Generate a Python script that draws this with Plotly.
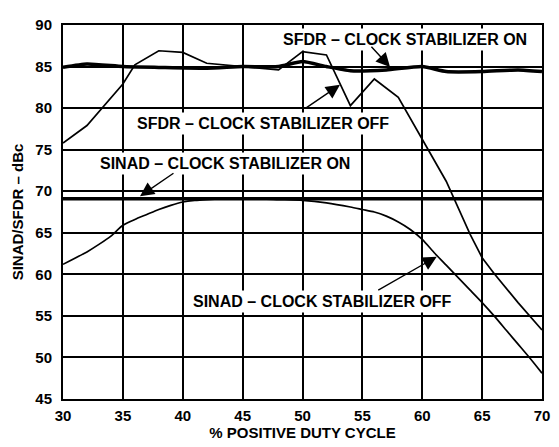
import plotly.graph_objects as go

# ---- data ----
sfdr_on_x = [30, 32, 35, 38, 42, 45, 48, 50, 52, 54, 57, 60, 62, 65, 68, 70]
sfdr_on_y = [84.9, 85.3, 85.0, 84.9, 84.8, 85.0, 85.0, 85.6, 85.0, 84.5, 84.6, 85.0, 84.4, 84.4, 84.6, 84.4]

sfdr_off_x = [30, 32, 35, 36, 38, 40, 42, 45, 48, 50, 52, 54, 56, 58, 60, 62, 64, 65, 66, 68, 70]
sfdr_off_y = [75.8, 77.9, 82.9, 85.2, 86.9, 86.7, 85.4, 85.0, 84.6, 86.8, 86.4, 80.3, 83.5, 81.3,
              76.3, 71.2, 64.8, 62.0, 60.1, 56.6, 53.3]

sinad_on_x = [30, 35, 40, 45, 50, 55, 60, 65, 70]
sinad_on_y = [69.1, 69.1, 69.1, 69.1, 69.1, 69.1, 69.1, 69.1, 69.1]

sinad_off_x = [30, 32, 33, 34, 35, 36, 37, 38, 39, 40, 41, 42, 44, 46, 48, 50, 52, 54, 55, 56, 57, 58,
               59, 60, 61, 62, 63, 64, 65, 66, 67, 68, 69, 70]
sinad_off_y = [61.2, 62.7, 63.6, 64.6, 65.9, 66.6, 67.2, 67.8, 68.3, 68.7, 68.9, 69.0, 69.1, 69.1, 69.0,
               68.9, 68.6, 68.1, 67.8, 67.5, 67.0, 66.3, 65.4, 64.2, 62.6, 61.1, 59.6, 58.1, 56.6,
               55.0, 53.3, 51.6, 49.9, 48.1]

x_ticks = [30, 35, 40, 45, 50, 55, 60, 65, 70]
y_ticks = [45, 50, 55, 60, 65, 70, 75, 80, 85, 90]

labels = ["SFDR – CLOCK STABILIZER ON", "SFDR – CLOCK STABILIZER OFF",
          "SINAD – CLOCK STABILIZER ON", "SINAD – CLOCK STABILIZER OFF"]
label_x = [58.56, 46.73, 43.53, 51.64]
label_y = [88.27, 78.17, 73.28, 56.71]
arrow_tail_x = [55.64, 50.21, 39.35, 56.20]
arrow_tail_y = [87.57, 79.93, 72.29, 58.00]
arrow_head_x = [57.31, 53.13, 36.43, 61.21]
arrow_head_y = [84.95, 82.80, 69.40, 62.12]

FONT = "Liberation Sans, Arial, Helvetica, sans-serif"

def bold(s):
    return "<b>" + s + "</b>"

fig = go.Figure()
fig.add_trace(go.Scatter(x=sfdr_on_x, y=sfdr_on_y, mode="lines",
                         line=dict(color="black", width=3.5, shape="spline", smoothing=0.5)))
fig.add_trace(go.Scatter(x=sfdr_off_x, y=sfdr_off_y, mode="lines",
                         line=dict(color="black", width=1.7)))
fig.add_trace(go.Scatter(x=sinad_on_x, y=sinad_on_y, mode="lines",
                         line=dict(color="black", width=3.5)))
fig.add_trace(go.Scatter(x=sinad_off_x, y=sinad_off_y, mode="lines",
                         line=dict(color="black", width=1.7, shape="spline", smoothing=0.6)))

annotations = []
for t, x, y in zip(labels, label_x, label_y):
    annotations.append(dict(x=x, y=y, xref="x", yref="y", text=bold(t), showarrow=False,
                            bgcolor="white", borderpad=2,
                            font=dict(family=FONT, size=16, color="black")))
for tx, ty, hx, hy in zip(arrow_tail_x, arrow_tail_y, arrow_head_x, arrow_head_y):
    annotations.append(dict(x=hx, y=hy, ax=tx, ay=ty, xref="x", yref="y", axref="x", ayref="y",
                            text="", showarrow=True, arrowhead=2, arrowsize=2.0,
                            arrowwidth=1.4, arrowcolor="black"))

# page body has an 8px margin, so the figure is sized to the remaining viewport
fig.update_layout(
    width=551, height=439,
    margin=dict(l=55, r=17, t=8, b=48),
    paper_bgcolor="white", plot_bgcolor="white",
    showlegend=False,
    font=dict(family=FONT, size=15, color="black"),
    annotations=annotations,
)
fig.update_xaxes(range=[30, 70], tickvals=x_ticks, ticktext=[bold(str(v)) for v in x_ticks],
                 showgrid=True, gridcolor="black", gridwidth=2,
                 showline=True, linecolor="black", linewidth=2, mirror=True,
                 ticks="", ticklabelstandoff=2,
                 tickfont=dict(family=FONT, size=15, color="black"),
                 title=dict(text=bold("% POSITIVE DUTY CYCLE"), standoff=4,
                            font=dict(family=FONT, size=15, color="black")),
                 zeroline=False)
fig.update_yaxes(range=[45, 90], tickvals=y_ticks, ticktext=[bold(str(v)) for v in y_ticks],
                 showgrid=True, gridcolor="black", gridwidth=2,
                 showline=True, linecolor="black", linewidth=2, mirror=True,
                 ticks="", ticklabelstandoff=6,
                 tickfont=dict(family=FONT, size=15, color="black"),
                 title=dict(text=bold("SINAD/SFDR – dBc"), standoff=8,
                            font=dict(family=FONT, size=15, color="black")),
                 zeroline=False)

fig.write_html("out.html")
